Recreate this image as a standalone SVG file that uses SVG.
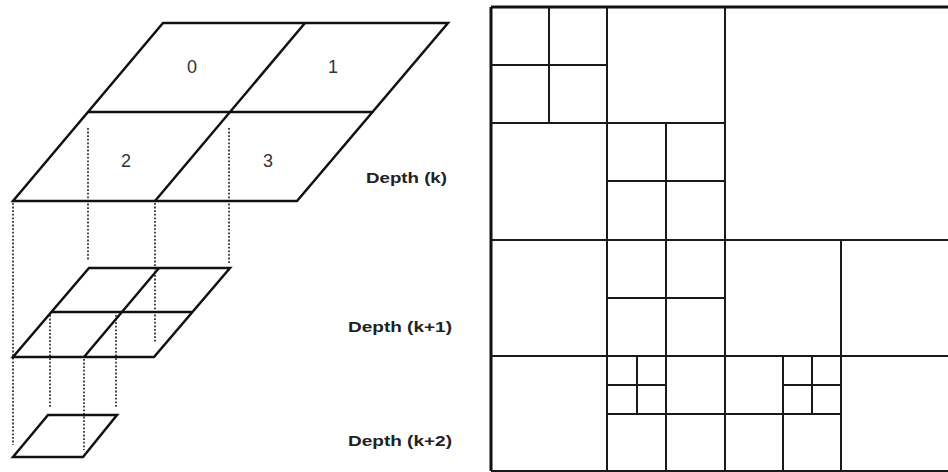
<svg xmlns="http://www.w3.org/2000/svg" width="948" height="472" viewBox="0 0 948 472">
<style>
.s{fill:none;stroke:#111;stroke-width:2.5;stroke-linejoin:miter}
.d{fill:none;stroke:#333;stroke-width:1.8;stroke-dasharray:1.8 1.8}
.g{fill:none;stroke:#1a1a1a;stroke-width:2}
.b{fill:none;stroke:#111;stroke-width:3}
.n{font-family:"Liberation Sans",Arial,sans-serif;font-size:18px;fill:#333;text-anchor:middle}
.l{font-family:"Liberation Sans",Arial,sans-serif;font-size:15px;font-weight:bold;fill:#222}
</style>
<rect width="948" height="472" fill="#fff"/>
<g id="connectors">
<line class="d" x1="13" y1="203" x2="13" y2="445"/>
<line class="d" x1="88" y1="128" x2="88" y2="260"/>
<line class="d" x1="155" y1="203" x2="155" y2="342"/>
<line class="d" x1="229" y1="128" x2="229" y2="264"/>
<line class="d" x1="50" y1="315" x2="50" y2="407"/>
<line class="d" x1="84" y1="359" x2="84" y2="450"/>
<line class="d" x1="116" y1="315" x2="116" y2="407"/>
</g>
<g id="depth-k">
<polygon class="s" points="163,23 448,23 297,201 13,201"/>
<line class="s" x1="88" y1="112" x2="372" y2="112"/>
<line class="s" x1="305" y1="23" x2="155" y2="201"/>
<text class="n" x="192" y="73">0</text>
<text class="n" x="333" y="73">1</text>
<text class="n" x="126" y="167">2</text>
<text class="n" x="268" y="167">3</text>
<text class="l" x="366" y="183" textLength="81" lengthAdjust="spacingAndGlyphs">Depth (k)</text>
</g>
<g id="depth-k1">
<polygon class="s" points="89,268 230,268 154,357 13,357"/>
<line class="s" x1="51" y1="312" x2="192" y2="312"/>
<line class="s" x1="159" y1="268" x2="84" y2="357"/>
<text class="l" x="348" y="332" textLength="104" lengthAdjust="spacingAndGlyphs">Depth (k+1)</text>
</g>
<g id="depth-k2">
<polygon class="s" points="48,415 117,415 83,457 13,457"/>
<text class="l" x="348" y="446" textLength="104" lengthAdjust="spacingAndGlyphs">Depth (k+2)</text>
</g>
<g id="quadtree">
<line class="b" x1="491" y1="7" x2="950" y2="7"/>
<line class="b" x1="491" y1="7" x2="491" y2="471"/>
<line class="g" x1="491" y1="471" x2="950" y2="471"/>
<line class="g" x1="491" y1="240" x2="950" y2="240"/>
<line class="g" x1="491" y1="356" x2="950" y2="356"/>
<line class="g" x1="491" y1="123" x2="725" y2="123"/>
<line class="g" x1="725" y1="7" x2="725" y2="471"/>
<line class="g" x1="607" y1="7" x2="607" y2="471"/>
<line class="g" x1="549" y1="7" x2="549" y2="123"/>
<line class="g" x1="491" y1="65" x2="607" y2="65"/>
<line class="g" x1="666" y1="123" x2="666" y2="471"/>
<line class="g" x1="607" y1="181" x2="725" y2="181"/>
<line class="g" x1="607" y1="298" x2="725" y2="298"/>
<line class="g" x1="607" y1="414" x2="841" y2="414"/>
<line class="g" x1="637" y1="356" x2="637" y2="414"/>
<line class="g" x1="607" y1="385" x2="666" y2="385"/>
<line class="g" x1="841" y1="240" x2="841" y2="471"/>
<line class="g" x1="783" y1="356" x2="783" y2="471"/>
<line class="g" x1="812" y1="356" x2="812" y2="414"/>
<line class="g" x1="783" y1="385" x2="841" y2="385"/>
</g>
</svg>
